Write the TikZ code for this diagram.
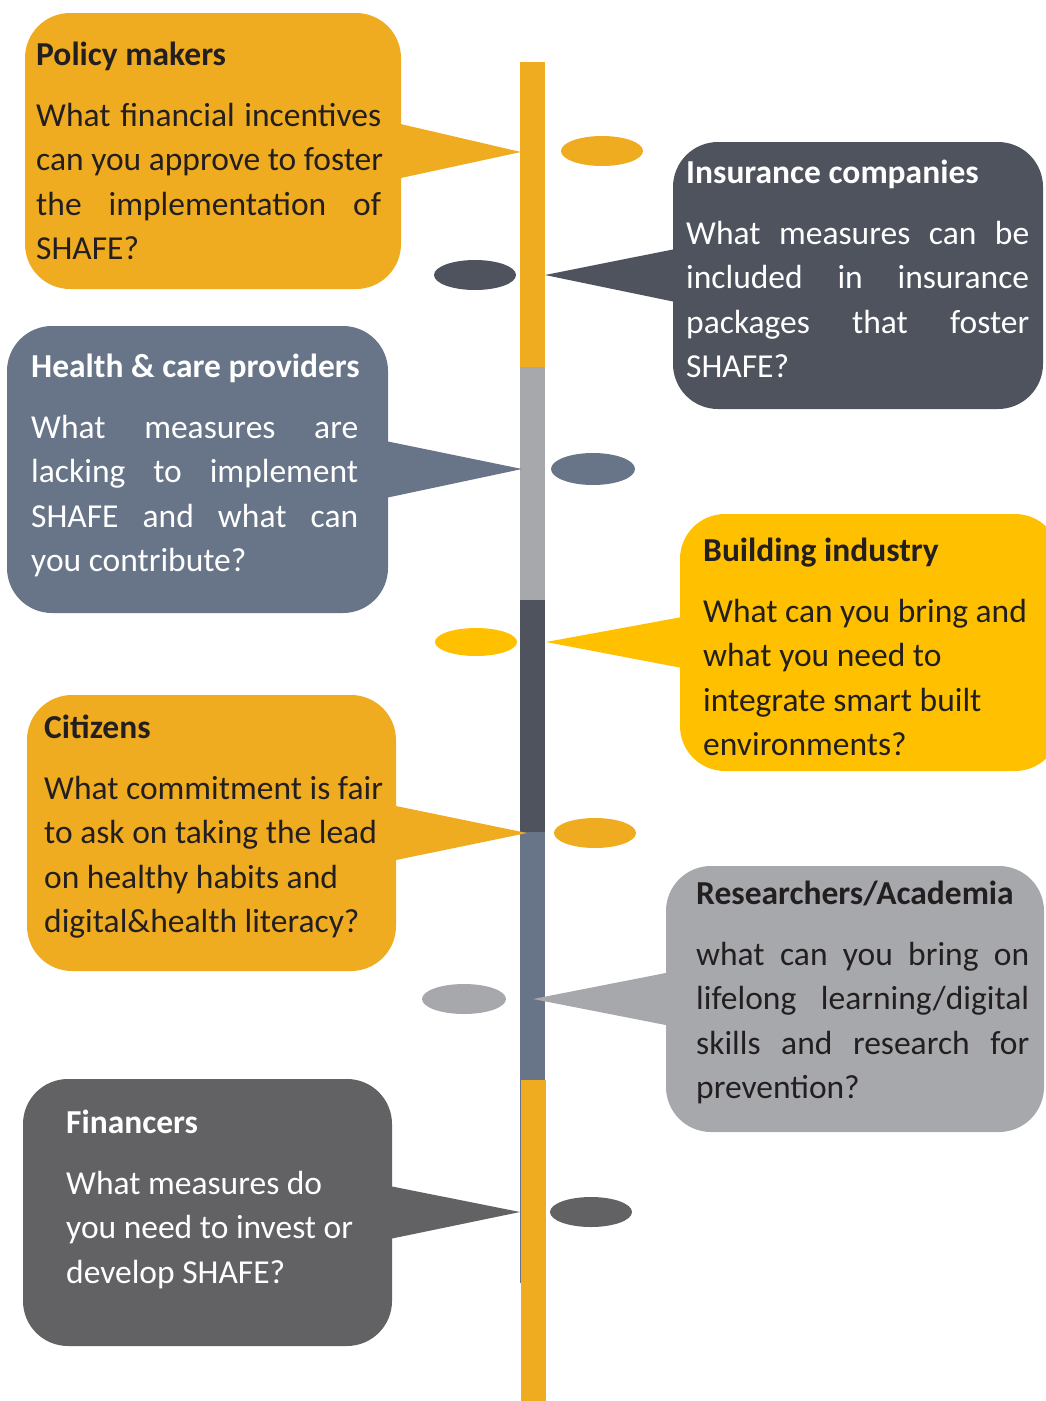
\documentclass[tikz,border=0pt]{standalone}
\usepackage{fontspec}
\setmainfont{Carlito}
\usetikzlibrary{shapes.geometric,calc}
\definecolor{ochre}{HTML}{F0AC20}
\definecolor{gold}{HTML}{FFC000}
\definecolor{slatedark}{HTML}{4F535E}
\definecolor{slateblue}{HTML}{687589}
\definecolor{greylight}{HTML}{A7A8AC}
\definecolor{greydark}{HTML}{626264}
\definecolor{ink}{HTML}{231F20}
\tikzset{
  bubble/.style={rectangle,rounded corners=45pt,inner sep=0pt},
  blob/.style={ellipse,inner sep=0pt,minimum width=82pt,minimum height=30pt},
  say/.style={anchor=base west,inner sep=0pt,text width=400pt,
    font=\fontsize{33.5}{44.5}\selectfont,
    execute at begin node={\spaceskip=0.226em plus 0.1em minus 0.05em\relax}}
}
\newcommand{\fullline}[2]{\makebox[#1][s]{\spaceskip=0.226em plus 1fil\relax #2}}
\begin{document}
\begin{tikzpicture}[x=1pt,y=-1pt]
    \useasboundingbox (0,0) rectangle (1046,1401);
    % the timeline bar
    \fill[ochre] (520,62) rectangle (545,367);
    \fill[greylight] (520,367) rectangle (545,600);
    \fill[slatedark] (520,600) rectangle (545,832);
    \fill[slateblue] (520,832) rectangle (545,1080);
    \fill[ochre] (521,1080) rectangle (546,1401);
    \draw[slateblue,line width=1pt] (520.5,1080) -- (520.5,1283);
    \coordinate (policytip) at (521,152);
    \coordinate (insurtip) at (545,275);
    \coordinate (healthtip) at (522,469);
    \coordinate (buildtip) at (546,642);
    \coordinate (citiztip) at (527,833);
    \coordinate (researchtip) at (533,999);
    \coordinate (financetip) at (520,1212);
    % bubbles
    \node[bubble,fill=ochre,minimum width=376pt,minimum height=276pt] (policy) at (213,151) {};
    \fill[ochre] ($(policy.east)+(-5,-28)$) -- (policytip) -- ($(policy.east)+(-5,28)$) -- cycle;
    \node[bubble,fill=slatedark,minimum width=370pt,minimum height=267pt] (insur) at (858,275.5) {};
    \fill[slatedark] ($(insur.west)+(5,-27)$) -- (insurtip) -- ($(insur.west)+(5,27)$) -- cycle;
    \node[bubble,fill=slateblue,minimum width=381pt,minimum height=287pt] (health) at (197.5,469.5) {};
    \fill[slateblue] ($(health.east)+(-5,-29)$) -- (healthtip) -- ($(health.east)+(-5,29)$) -- cycle;
    \node[bubble,fill=gold,minimum width=380pt,minimum height=257pt] (build) at (870,642.5) {};
    \fill[gold] ($(build.west)+(5,-26)$) -- (buildtip) -- ($(build.west)+(5,26)$) -- cycle;
    \node[bubble,fill=ochre,minimum width=369pt,minimum height=276pt] (citiz) at (211.5,833) {};
    \fill[ochre] ($(citiz.east)+(-5,-28)$) -- (citiztip) -- ($(citiz.east)+(-5,28)$) -- cycle;
    \node[bubble,fill=greylight,minimum width=378pt,minimum height=266pt] (research) at (855,999) {};
    \fill[greylight] ($(research.west)+(5,-27)$) -- (researchtip) -- ($(research.west)+(5,27)$) -- cycle;
    \node[bubble,fill=greydark,minimum width=369pt,minimum height=267pt] (finance) at (207.5,1212.5) {};
    \fill[greydark] ($(finance.east)+(-5,-27)$) -- (financetip) -- ($(finance.east)+(-5,27)$) -- cycle;
    % dots beside the bar
    \node[blob,fill=ochre] (policydot) at (602,151) {};
    \node[blob,fill=slatedark] (insurdot) at (475,275) {};
    \node[blob,fill=slateblue,minimum width=84pt,minimum height=32pt] (healthdot) at (593,469) {};
    \node[blob,fill=gold,minimum height=28pt] (builddot) at (476,642) {};
    \node[blob,fill=ochre] (citizdot) at (595,833) {};
    \node[blob,fill=greylight,minimum width=84pt] (researchdot) at (464,999) {};
    \node[blob,fill=greydark] (financedot) at (591,1212) {};
    % texts
    \node[say,text=ink] (policytext) at (36,65) {\textbf{Policy makers}\\[16.5pt]
      \fullline{345pt}{What financial incentives}\\
      \fullline{345pt}{can you approve to foster}\\
      \fullline{345pt}{the implementation of}\\
      SHAFE?};
    \node[say,text=white] (insurtext) at (686,183) {\textbf{Insurance companies}\\[16.5pt]
      \fullline{343pt}{What measures can be}\\
      \fullline{343pt}{included in insurance}\\
      \fullline{343pt}{packages that foster}\\
      SHAFE?};
    \node[say,text=white] (healthtext) at (31,377) {\textbf{Health \& care providers}\\[16.5pt]
      \fullline{327pt}{What measures are}\\
      \fullline{327pt}{lacking to implement}\\
      \fullline{327pt}{SHAFE and what can}\\
      you contribute?};
    \node[say,text=ink] (buildtext) at (703,561) {\textbf{Building industry}\\[16.5pt]
      What can you bring and\\
      what you need to\\
      integrate smart built\\
      environments?};
    \node[say,text=ink] (citiztext) at (44,738) {\textbf{Citizens}\\[16.5pt]
      What commitment is fair\\
      to ask on taking the lead\\
      on healthy habits and\\
      digital\&health literacy?};
    \node[say,text=ink] (researchtext) at (696,904) {\textbf{Researchers/Academia}\\[16.5pt]
      \fullline{333pt}{what can you bring on}\\
      \fullline{333pt}{lifelong learning/digital}\\
      \fullline{333pt}{skills and research for}\\
      prevention?};
    \node[say,text=white] (financetext) at (66,1133) {\textbf{Financers}\\[16.5pt]
      What measures do\\
      you need to invest or\\
      develop SHAFE?};
\end{tikzpicture}
\end{document}
